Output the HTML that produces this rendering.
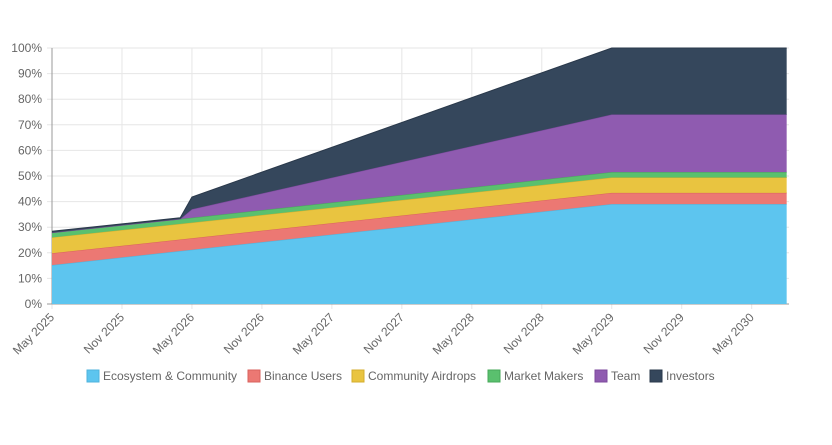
<!DOCTYPE html>
<html><head><meta charset="utf-8"><style>
body{margin:0;background:#fff;width:832px;height:440px;overflow:hidden;font-family:"Liberation Sans",Helvetica,Arial,sans-serif}
svg text{font-family:"Liberation Sans",Helvetica,Arial,sans-serif;font-size:12px;fill:#666}
</style></head><body>
<svg id="c" width="832" height="440"></svg>
<script>
const monthOffsets=[0,11,12,48,63];
const seriesNames=["Ecosystem & Community","Binance Users","Community Airdrops","Market Makers","Team","Investors"];
const ecosystem=[15.2,20.7,21.2,39,39];
const binance=[4.6,4.5,4.5,4.4,4.4];
const airdrops=[6.2,6.1,6.1,6.0,6.0];
const marketMakers=[1.9,1.9,1.9,2.1,2.1];
const team=[0,0,3.3,22.5,22.5];
const investors=[0.5,0.5,4.8,26,26];
const yTicks=[0,10,20,30,40,50,60,70,80,90,100];
const xTickLabels=["May 2025","Nov 2025","May 2026","Nov 2026","May 2027","Nov 2027","May 2028","Nov 2028","May 2029","Nov 2029","May 2030"];
const fills=["#5dc5ef","#ec7873","#e9c440","#5ac06e","#8f5bb0","#35475c"];
const strokes=["#4fb3dc","#d9625e","#d4ae2e","#47a85a","#7c4a9c","#2a394b"];
const L=52,R=789,T=48,B=304,NS="http://www.w3.org/2000/svg";
const maxM=63.2;
const x=m=>L+(m/maxM)*(R-L);
const y=v=>B-(v/100)*(B-T);
const svg=document.getElementById('c');
function el(t,a){const e=document.createElementNS(NS,t);for(const k in a)e.setAttribute(k,a[k]);svg.appendChild(e);return e;}
yTicks.forEach(v=>{
 const g=el('line',{x1:L-5,x2:R,y1:y(v),y2:y(v),stroke:'#e6e6e6'});
 
 
 const t=el('text',{x:L-10,y:y(v)+4,'text-anchor':'end'});t.textContent=v+'%';
 
 
});
xTickLabels.forEach((s,i)=>{
 const xx=x(i*6);
 const g=el('line',{x1:xx,x2:xx,y1:T,y2:B+5,stroke:'#e6e6e6'});
 
 
 const t=el('text',{x:xx+3,y:B+14,'text-anchor':'end',transform:`rotate(-45 ${xx+3} ${B+14})`});t.textContent=s;
 
 
});
el('line',{x1:L,x2:L,y1:T,y2:B,stroke:'#999'});
el('line',{x1:L-5,x2:R,y1:B,y2:B,stroke:'#999'});
const all=[ecosystem,binance,airdrops,marketMakers,team,investors];
let base=monthOffsets.map(()=>0);
all.forEach((s,i)=>{
 const top=base.map((b,j)=>b+s[j]);
 let d='';
 monthOffsets.forEach((m,j)=>{d+=(j?'L':'M')+x(m)+','+y(top[j])});
 for(let j=monthOffsets.length-1;j>=0;j--)d+='L'+x(monthOffsets[j])+','+y(base[j]);
 const p=el('path',{d:d+'Z',fill:fills[i]});
 
 
 let ld='';monthOffsets.forEach((m,j)=>{ld+=(j?'L':'M')+x(m)+','+y(top[j])});
 el('path',{d:ld,fill:'none',stroke:strokes[i],'stroke-width':1});
 base=top;
});
const legX=[87,248,352,488,595,650];
seriesNames.forEach((n,i)=>{
 const r=el('rect',{x:legX[i],y:370,width:12,height:12,fill:fills[i],stroke:strokes[i]});
 
 
 const t=el('text',{x:legX[i]+16,y:380});t.textContent=n;
 
 
});
</script>
</body></html>
